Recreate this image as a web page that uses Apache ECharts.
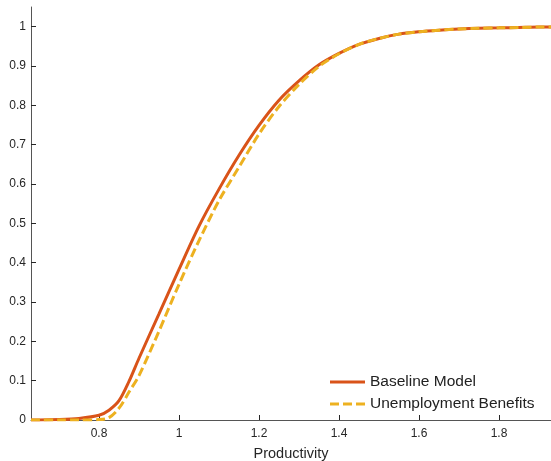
<!DOCTYPE html>
<html>
<head>
<meta charset="utf-8">
<script src="https://cdn.jsdelivr.net/npm/echarts@6/dist/echarts.min.js"></script>
<style>html,body{margin:0;padding:0;background:#fff}#c{width:551px;height:461px}</style>
</head>
<body>
<div id="c"></div>
<script>
const productivity = [0.63,0.65,0.70,0.75,0.80,0.825,0.85,0.875,0.90,0.95,1.00,1.05,1.10,1.15,1.20,1.25,1.30,1.35,1.40,1.45,1.50,1.55,1.60,1.65,1.70,1.75,1.80,1.85,1.90,1.93];
const baseline =     [0,0,0.001,0.004,0.012,0.025,0.049,0.098,0.157,0.270,0.383,0.493,0.587,0.673,0.749,0.813,0.862,0.903,0.932,0.955,0.970,0.981,0.987,0.991,0.994,0.996,0.997,0.998,0.999,0.999];
const benefits =     [0,0,0,0,0.001,0.006,0.030,0.071,0.113,0.226,0.345,0.456,0.558,0.643,0.727,0.797,0.853,0.899,0.931,0.955,0.970,0.981,0.987,0.991,0.994,0.996,0.997,0.998,0.999,0.999];
const xTicks = [0.8,1,1.2,1.4,1.6,1.8];
const yTicks = [0,0.1,0.2,0.3,0.4,0.5,0.6,0.7,0.8,0.9,1];
const seriesNames = ['Baseline Model','Unemployment Benefits'];

const chart = echarts.init(document.getElementById('c'));
const font = 'Liberation Sans, Arial, Helvetica, sans-serif';
chart.setOption({
  animation:false,
  grid:{left:31,right:0,top:7,bottom:41,containLabel:false,outerBoundsMode:'none'},
  xAxis:{
    type:'value',min:0.63,max:1.93,
    name:'Productivity',nameLocation:'middle',nameGap:26,
    nameTextStyle:{fontFamily:font,fontSize:14.5,color:'#262626'},
    axisLine:{show:true,onZero:false,lineStyle:{color:'#555',width:1}},
    axisTick:{show:true,inside:true,length:5,customValues:xTicks,lineStyle:{color:'#262626'}},
    axisLabel:{customValues:xTicks,margin:8,fontFamily:font,fontSize:12,color:'#262626',formatter:v=>String(+v.toFixed(2))},
    splitLine:{show:false}
  },
  yAxis:{
    type:'value',min:0,max:1.05,
    axisLine:{show:true,onZero:false,lineStyle:{color:'#555',width:1}},
    axisTick:{show:true,inside:true,length:5,customValues:yTicks,lineStyle:{color:'#262626'}},
    axisLabel:{customValues:yTicks,margin:5,fontFamily:font,fontSize:12,color:'#262626',formatter:v=>String(+v.toFixed(2))},
    splitLine:{show:false}
  },
  legend:{
    orient:'vertical',left:330,top:374,padding:0,itemWidth:35,itemHeight:3,itemGap:6,
    textStyle:{fontFamily:font,fontSize:15.5,color:'#222',lineHeight:14},
    data:[
      {name:seriesNames[0],icon:'rect'},
      {name:seriesNames[1],icon:'path://M0,0h9v3h-9z M13,0h9v3h-9z M26,0h9v3h-9z'}
    ]
  },
  series:[
    {name:seriesNames[0],type:'line',smooth:0.3,symbol:'none',
     data:productivity.map((x,i)=>[x,baseline[i]]),
     lineStyle:{color:'#D95319',width:3},itemStyle:{color:'#D95319'}},
    {name:seriesNames[1],type:'line',smooth:0.3,symbol:'none',
     data:productivity.map((x,i)=>[x,benefits[i]]),
     lineStyle:{color:'#EDB120',width:3,type:[9,4]},itemStyle:{color:'#EDB120'}}
  ]
});
</script>
</body>
</html>
